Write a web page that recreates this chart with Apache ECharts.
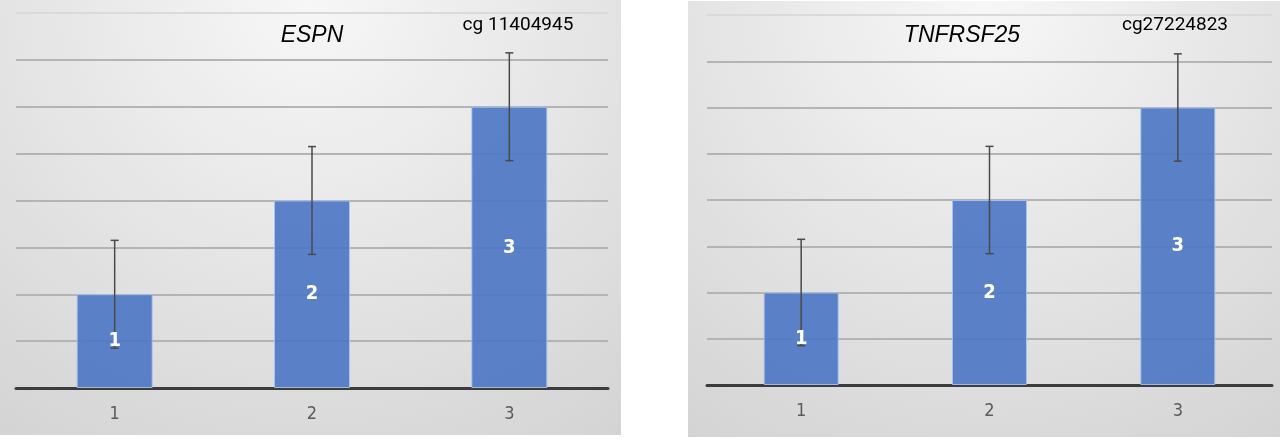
<!DOCTYPE html>
<html>
<head>
<meta charset="utf-8">
<script src="https://cdn.jsdelivr.net/npm/echarts@6/dist/echarts.min.js"></script>
<style>
  html, body { margin: 0; padding: 0; background: #fff; }
  .wrap { position: relative; width: 1280px; height: 439px; }
  .bg { position: absolute; background: radial-gradient(ellipse 95% 130% at 50% 0%, #f7f7f7 0%, #e6e6e6 45%, #d1d1d1 100%); }
  #bgL { left: 0; top: 0; width: 621px; height: 435px; }
  #bgR { left: 688px; top: 1px; width: 592px; height: 436px; }
  #main { position: absolute; left: 0; top: 0; width: 1280px; height: 439px; }
</style>
</head>
<body>
<div class="wrap">
  <div class="bg" id="bgL"></div>
  <div class="bg" id="bgR"></div>
  <div id="main"></div>
</div>
<script>
// 数据
const categories = ['1', '2', '3']
const geneNames = ['ESPN', 'TNFRSF25']
const probeIds = ['cg 11404945', 'cg27224823']
const espnValues = [2, 4, 6]
const espnErrors = [1.15, 1.15, 1.15]
const tnfValues = [2, 4, 6]
const tnfErrors = [1.15, 1.16, 1.16]

const barColor = 'rgba(78,119,198,0.92)'
const gridColors = ['#b4b4b4', '#b4b4b4', '#b4b4b4', '#b4b4b4', '#b4b4b4', '#b4b4b4', '#b4b4b4', '#b4b4b4', '#dadada']
const narrowFont = '"Liberation Sans Narrow", "DejaVu Sans Condensed", sans-serif'

// 误差线
function errorItem(params, api) {
  let lo = api.coord([api.value(0), api.value(1)])
  let hi = api.coord([api.value(0), api.value(2)])
  let style = { stroke: '#4a4a4a', lineWidth: 1.5 }
  return {
    type: 'group',
    children: [
      { type: 'line', shape: { x1: hi[0], y1: hi[1], x2: lo[0], y2: lo[1] }, style: style },
      { type: 'line', shape: { x1: hi[0] - 4, y1: hi[1], x2: hi[0] + 4, y2: hi[1] }, style: style },
      { type: 'line', shape: { x1: lo[0] - 4, y1: lo[1], x2: lo[0] + 4, y2: lo[1] }, style: style }
    ]
  }
}

function errData(values, errors) {
  return values.map((v, i) => [i, v - errors[i], v + errors[i]])
}

function panelSeries(idx, values, errors, barWidth) {
  return [
    {
      type: 'bar', xAxisIndex: idx, yAxisIndex: idx, data: values, barWidth: barWidth, z: 2,
      itemStyle: { color: barColor, borderColor: 'rgba(170,195,235,0.9)', borderWidth: 1 }
    },
    {
      type: 'custom', xAxisIndex: idx, yAxisIndex: idx, data: errData(values, errors),
      renderItem: errorItem, z: 3
    },
    {
      // 标签放在误差线上面
      type: 'bar', xAxisIndex: idx, yAxisIndex: idx, data: values, barWidth: barWidth, barGap: '-100%', z: 4,
      itemStyle: { color: 'rgba(0,0,0,0)' },
      label: {
        show: true, position: 'inside', formatter: '{b}', color: '#fff',
        fontFamily: narrowFont, fontWeight: 'bold', fontSize: 20
      }
    }
  ]
}

function xAxisOf(idx) {
  return {
    type: 'category', gridIndex: idx, data: categories,
    axisLine: { lineStyle: { color: '#3c3c3c', width: 3 } },
    axisTick: { show: false },
    axisLabel: { color: '#5a5a5a', fontSize: 18, margin: 17, fontFamily: narrowFont }
  }
}

function yAxisOf(idx) {
  return {
    type: 'value', gridIndex: idx, min: 0, max: 8, interval: 1,
    axisLine: { show: false }, axisTick: { show: false }, axisLabel: { show: false },
    splitLine: { lineStyle: { color: gridColors, width: 2 } }
  }
}

let myChart = echarts.init(document.getElementById('main'))
myChart.setOption({
  animation: false,
  grid: [
    { left: 16, right: 672, top: 13, bottom: 51 },
    { left: 707, right: 8, top: 15, bottom: 54 }
  ],
  xAxis: [xAxisOf(0), xAxisOf(1)],
  yAxis: [yAxisOf(0), yAxisOf(1)],
  graphic: [
    { type: 'text', x: 312, y: 36, style: { text: geneNames[0], fontSize: 23, fontStyle: 'italic', fontFamily: '"Liberation Sans", Arial, sans-serif', fill: '#000', align: 'center', verticalAlign: 'middle' } },
    { type: 'text', x: 518, y: 25, style: { text: probeIds[0], fontSize: 19, fontFamily: 'Roboto, sans-serif', fill: '#000', align: 'center', verticalAlign: 'middle' } },
    { type: 'text', x: 962, y: 36, style: { text: geneNames[1], fontSize: 23, fontStyle: 'italic', fontFamily: '"Liberation Sans", Arial, sans-serif', fill: '#000', align: 'center', verticalAlign: 'middle' } },
    { type: 'text', x: 1175, y: 25, style: { text: probeIds[1], fontSize: 19, fontFamily: 'Roboto, sans-serif', fill: '#000', align: 'center', verticalAlign: 'middle' } }
  ],
  series: [
    ...panelSeries(0, espnValues, espnErrors, 76),
    ...panelSeries(1, tnfValues, tnfErrors, 75)
  ]
})
</script>
</body>
</html>
